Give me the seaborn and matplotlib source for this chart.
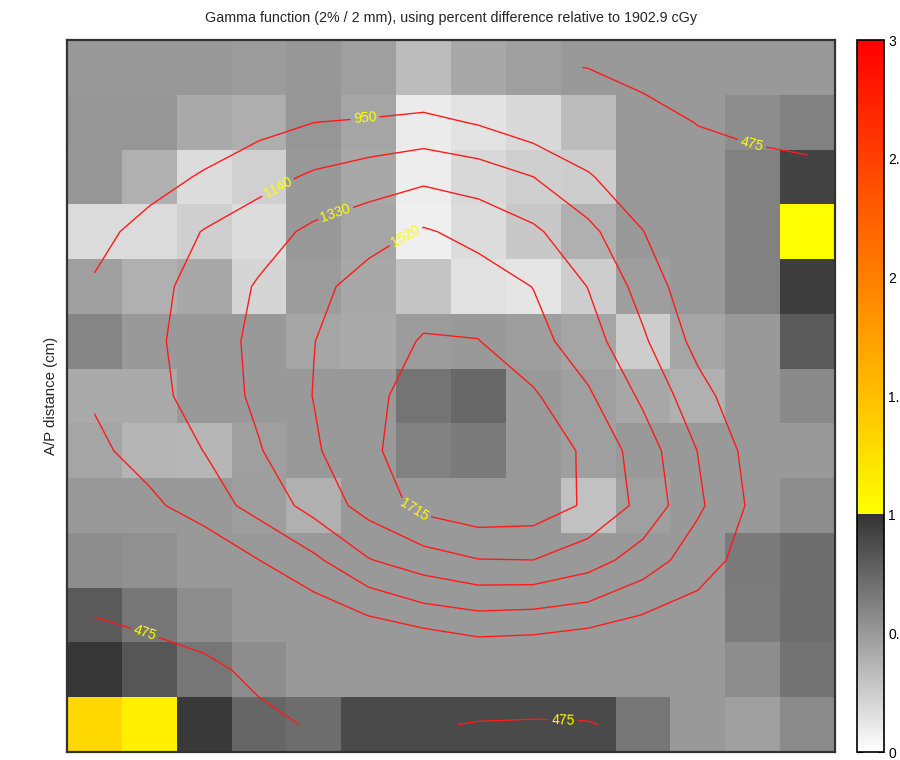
import numpy as np
import matplotlib
matplotlib.use("Agg")
import matplotlib.pyplot as plt
from matplotlib.colors import LinearSegmentedColormap
import seaborn as sns

# Gamma index per voxel (2% / 2 mm), rows top to bottom, columns left to right
gamma_rows = [
    [0.50, 0.50, 0.50, 0.49, 0.51, 0.47, 0.33, 0.43, 0.47, 0.50, 0.50, 0.50, 0.50, 0.50],
    [0.52, 0.52, 0.42, 0.40, 0.52, 0.44, 0.10, 0.14, 0.19, 0.33, 0.50, 0.50, 0.56, 0.62],
    [0.51, 0.39, 0.17, 0.23, 0.50, 0.43, 0.09, 0.19, 0.24, 0.25, 0.50, 0.50, 0.62, 0.92],
    [0.18, 0.18, 0.24, 0.17, 0.50, 0.44, 0.08, 0.17, 0.27, 0.39, 0.50, 0.50, 0.62, 1.01],
    [0.47, 0.39, 0.43, 0.21, 0.49, 0.43, 0.29, 0.15, 0.13, 0.25, 0.48, 0.50, 0.62, 0.95],
    [0.60, 0.50, 0.50, 0.50, 0.44, 0.42, 0.49, 0.50, 0.48, 0.44, 0.25, 0.44, 0.50, 0.81],
    [0.42, 0.42, 0.50, 0.50, 0.50, 0.50, 0.68, 0.74, 0.50, 0.47, 0.43, 0.39, 0.50, 0.58],
    [0.44, 0.37, 0.36, 0.47, 0.50, 0.50, 0.62, 0.65, 0.50, 0.47, 0.50, 0.50, 0.50, 0.50],
    [0.50, 0.50, 0.50, 0.48, 0.39, 0.50, 0.50, 0.50, 0.50, 0.31, 0.47, 0.50, 0.50, 0.56],
    [0.56, 0.55, 0.50, 0.50, 0.50, 0.50, 0.50, 0.50, 0.50, 0.50, 0.50, 0.50, 0.65, 0.71],
    [0.81, 0.67, 0.56, 0.50, 0.50, 0.50, 0.50, 0.50, 0.50, 0.50, 0.50, 0.50, 0.64, 0.71],
    [0.99, 0.83, 0.67, 0.56, 0.50, 0.50, 0.50, 0.50, 0.50, 0.50, 0.50, 0.50, 0.56, 0.69],
    [1.31, 1.12, 0.97, 0.75, 0.72, 0.89, 0.89, 0.89, 0.89, 0.89, 0.67, 0.50, 0.47, 0.57],
]

# Dose (cGy) sampled at voxel centres, same layout
dose_rows = [
    [530, 600, 639, 700, 711, 697, 713, 604, 518, 470, 387, 361, 340, 330],
    [650, 730, 806, 887, 948, 971, 1002, 933, 830, 738, 575, 466, 430, 420],
    [770, 870, 972, 1072, 1168, 1234, 1288, 1242, 1141, 973, 780, 600, 540, 512],
    [889, 1020, 1149, 1250, 1369, 1443, 1540, 1461, 1363, 1191, 955, 686, 600, 560],
    [970, 1082, 1209, 1349, 1465, 1600, 1628, 1611, 1516, 1325, 1069, 810, 700, 620],
    [985, 1098, 1233, 1378, 1517, 1621, 1730, 1720, 1589, 1412, 1168, 890, 760, 680],
    [970, 1082, 1214, 1370, 1525, 1665, 1800, 1820, 1740, 1547, 1295, 1022, 800, 700],
    [908, 1027, 1143, 1317, 1494, 1674, 1840, 1900, 1860, 1673, 1428, 1136, 880, 760],
    [790, 908, 1047, 1206, 1399, 1593, 1775, 1850, 1830, 1685, 1465, 1174, 913, 780],
    [640, 740, 790, 948, 1100, 1319, 1430, 1512, 1518, 1410, 1245, 1035, 870, 760],
    [478, 540, 640, 740, 841, 955, 1060, 1110, 1095, 1055, 945, 880, 800, 720],
    [380, 354, 404, 546, 650, 650, 602, 710, 692, 617, 700, 720, 680, 640],
    [300, 320, 360, 404, 501, 520, 500, 460, 451, 465, 520, 580, 600, 580],
]

isodose_levels = [475, 950, 1140, 1330, 1520, 1715]
colorbar_ticks = [0, 0.5, 1, 1.5, 2, 2.5, 3]
title_text = "Gamma function (2% / 2 mm), using percent difference relative to 1902.9 cGy"
ylabel_text = "A/P distance (cm)"

# where the isodose labels sit (data units: column, row)
label_spots = [(5.43, 1.39), (3.83, 2.67), (4.89, 3.14), (6.16, 3.56),
               (6.33, 8.58), (12.49, 1.88), (1.42, 10.83), (9.04, 12.45)]

sns.set_style("white")
plt.rcParams["font.family"] = ["Liberation Sans", "DejaVu Sans"]

gamma = np.array(gamma_rows)
dose = np.array(dose_rows, dtype=float)

# grey ramp for passing voxels, yellow -> red for failing ones
gamma_cmap = LinearSegmentedColormap.from_list(
    "gamma_pass_fail",
    [(0.0, "#ffffff"), (1 / 3, "#333333"), (1 / 3, "#ffff00"), (1.0, "#ff0000")],
    N=512,
)

fig = plt.figure(figsize=(9, 7.6), dpi=100)
ax = fig.add_axes([67 / 900, 8 / 760, 768 / 900, 712 / 760])
cax = fig.add_axes([857 / 900, 8 / 760, 27 / 900, 712 / 760])

sns.heatmap(gamma, ax=ax, cmap=gamma_cmap, vmin=0, vmax=3, cbar_ax=cax,
            xticklabels=False, yticklabels=False,
            cbar_kws={"ticks": colorbar_ticks})

ny, nx = dose.shape
xc = np.arange(nx) + 0.5
yc = np.arange(ny) + 0.5
cs = ax.contour(xc, yc, dose, levels=isodose_levels, colors="#ff1a1a",
                linewidths=1.0)
ax.clabel(cs, inline=True, fontsize=10, colors="#ffff00", fmt="%d",
          manual=label_spots, inline_spacing=3)

for spine in ax.spines.values():
    spine.set_visible(True)
    spine.set_color("#333333")
    spine.set_linewidth(1.6)

ax.set_title(title_text, fontsize=10.3, pad=13)
ax.set_ylabel(ylabel_text, fontsize=10.8)
ax.yaxis.set_label_coords(-0.012, 0.5)

cbar = ax.collections[0].colorbar
cbar.outline.set_edgecolor("black")
cbar.outline.set_linewidth(1.2)
cax.tick_params(direction="in", left=True, right=True, length=4, width=0.8,
                colors="black", labelsize=10, pad=3)
cax.set_yticklabels([f"{t:g}" for t in colorbar_ticks])

fig.savefig("out.png", dpi=100)
